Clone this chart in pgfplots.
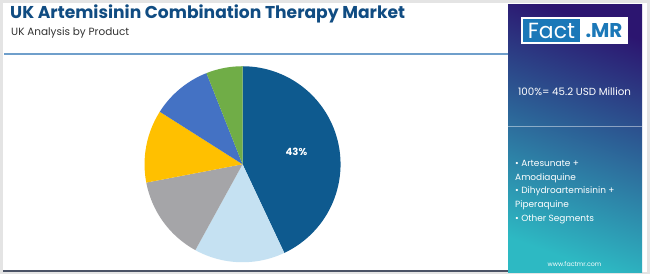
\documentclass[border=0pt]{standalone}
\usepackage{pgfplots}
\pgfplotsset{compat=1.18}
\usepackage{fontspec}
\setmainfont{Poppins}
\definecolor{sA}{HTML}{0E5A8F}
\definecolor{sB}{HTML}{C5E1F2}
\definecolor{sC}{HTML}{A5A5A8}
\definecolor{sD}{HTML}{FFC000}
\definecolor{sE}{HTML}{4472C4}
\definecolor{sF}{HTML}{70AD47}
\definecolor{titleblue}{HTML}{104C82}
\definecolor{rulebl}{HTML}{6F9FCB}
\definecolor{darkln}{HTML}{4B5366}
\definecolor{bordergray}{HTML}{E4E4E4}
\definecolor{panelA}{HTML}{2C1570}
\definecolor{panelB}{HTML}{2DB9C3}
\definecolor{logoblue}{HTML}{1B78B8}
\begin{document}
\begin{tikzpicture}[x=1bp,y=1bp]
\fill[bordergray] (0,0) rectangle (650,274);
\fill[white] (3,2) rectangle (647,271);
% title
\node[anchor=base west, inner sep=0, text=titleblue, font=\fontsize{17.2}{20}\selectfont\bfseries] at (10,256) {UK Artemisinin Combination Therapy Market};
\node[anchor=base west, inner sep=0, text=black!80, font=\fontsize{10.5}{12}\selectfont] at (11,239) {UK Analysis by Product};
\draw[rulebl, line width=1.3bp] (4,220) -- (508,220);
\draw[darkln, line width=2.2bp] (3,3) -- (508,3);
% panel
\shade[top color=panelA, bottom color=panelB, shading angle=-20] (508,2) rectangle (642,269);
\draw[white, opacity=0.45, line width=0.8bp] (508,148) -- (642,148);
\fill[white] (521,230) rectangle (628,257);
\fill[logoblue] (523,232) rectangle (580,255);
\node[text=white, inner sep=0, font=\fontsize{22}{24}\selectfont] at (551.5,243.5) {Fact};
\node[text=logoblue, inner sep=0, font=\fontsize{20}{24}\selectfont\bfseries] at (604,243.5) {.MR};
\node[text=white, inner sep=0, font=\fontsize{10.3}{12}\selectfont] at (574.5,182) {100\%= 45.2 USD Million};
\node[anchor=base west, text=white, inner sep=0, font=\fontsize{9}{11}\selectfont] at (515,108) {• Artesunate +};
\node[anchor=base west, text=white, inner sep=0, font=\fontsize{9}{11}\selectfont] at (515,94) {Amodiaquine};
\node[anchor=base west, text=white, inner sep=0, font=\fontsize{9}{11}\selectfont] at (515,80.3) {• Dihydroartemisinin +};
\node[anchor=base west, text=white, inner sep=0, font=\fontsize{9}{11}\selectfont] at (515,66.6) {Piperaquine};
\node[anchor=base west, text=white, inner sep=0, font=\fontsize{9}{11}\selectfont] at (515,53) {• Other Segments};
\node[text=white, inner sep=0, font=\fontsize{6.3}{8}\selectfont] at (574.5,10) {www.factmr.com};
% pie (values in percent: 43, 15, 14, 12, 10, 6; domains are cumulative shares)
\begin{axis}[at={(247.5,112)}, anchor=origin, width=196bp, height=196bp, scale only axis, hide axis,
  xmin=-1, xmax=1, ymin=-1, ymax=1, clip=false]
\addplot[fill=sA, draw=none, domain=0:43, samples=60, variable=\t] ({sin(3.6*\t)},{cos(3.6*\t)}) -- (0,0) -- cycle;
\addplot[fill=sB, draw=none, domain=43:58, samples=30, variable=\t] ({sin(3.6*\t)},{cos(3.6*\t)}) -- (0,0) -- cycle;
\addplot[fill=sC, draw=none, domain=58:72, samples=30, variable=\t] ({sin(3.6*\t)},{cos(3.6*\t)}) -- (0,0) -- cycle;
\addplot[fill=sD, draw=none, domain=72:84, samples=30, variable=\t] ({sin(3.6*\t)},{cos(3.6*\t)}) -- (0,0) -- cycle;
\addplot[fill=sE, draw=none, domain=84:94, samples=30, variable=\t] ({sin(3.6*\t)},{cos(3.6*\t)}) -- (0,0) -- cycle;
\addplot[fill=sF, draw=none, domain=94:100, samples=20, variable=\t] ({sin(3.6*\t)},{cos(3.6*\t)}) -- (0,0) -- cycle;
\node[text=white, font=\fontsize{10}{12}\selectfont\bfseries] at (0.55,0.125) {43\%};
\end{axis}
\end{tikzpicture}
\end{document}
